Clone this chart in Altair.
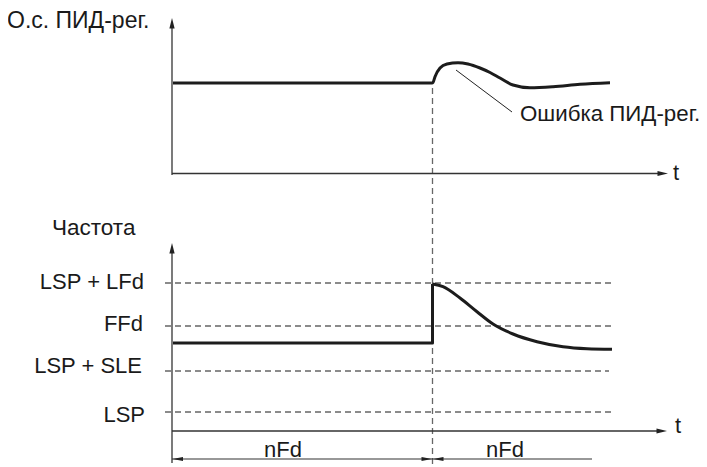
import altair as alt
import pandas as pd

# ---------------- data (diagram coordinates: x to the right, y downward) ----------------
# Top panel: PID feedback curve ("О.с. ПИД-рег.")
fb_x = [173, 432, 433, 435, 440, 447, 458, 468, 480, 490, 500, 513, 530, 553, 580, 610]
fb_y = [83, 83, 82.5, 76.7, 68, 64, 62.7, 64, 68, 72.5, 78, 85, 87.7, 86.7, 84.3, 82.7]

# Bottom panel: frequency – constant level, jump at the event, then decay
freq_step_x = [173, 432.5, 432.5]
freq_step_y = [343, 343, 284]
freq_decay_x = [432.5, 443, 460, 477, 493, 513, 537, 563, 587, 612]
freq_decay_y = [284, 286.7, 298, 311.7, 324, 334, 341.7, 346.7, 348.7, 349.3]

# Frequency reference levels
level_names = ["LSP + LFd", "FFd", "LSP + SLE", "LSP"]
level_y = [283, 326, 371, 412]
level_start = [165, 165, 165, 165]
level_end = [615, 615, 609, 615]
level_label_y = [289, 331, 373, 422]
level_label_x = [144, 143, 142, 145]

# Event time and nFd periods
event_x = 432.5
nfd_start = [172, 432.5]
nfd_end = [432.5, 592]
nfd_y = 459

# Axes (origin x, bottom y, arrow tip y, time-axis y, time-axis tip x)
axis_x = 172
top_axis = dict(y_bottom=175, y_tip=18, t_y=173.5, t_tip=668)
bot_axis = dict(y_bottom=463, y_tip=243, t_y=431, t_tip=667)

# Texts: (text, x, baseline y, align, font size)
texts = [
    ("О.с. ПИД-рег.", 7, 28, "left", 23),
    ("Частота", 52, 235, "left", 22.5),
    ("Ошибка ПИД-рег.", 520, 121, "left", 22.3),
    ("t", 673, 180, "left", 22),
    ("t", 675, 433, "left", 22),
    ("nFd", 283, 457, "center", 22),
    ("nFd", 505, 457, "center", 22),
] + [(n, lx, ly, "right", 22) for n, lx, ly in zip(level_names, level_label_x, level_label_y)]

# ---------------- scales ----------------
xs = alt.Scale(domain=[8, 699], nice=False, zero=False)
ys = alt.Scale(domain=[8, 467], nice=False, zero=False, reverse=True)

def X(f="x"):
    return alt.X(f"{f}:Q", scale=xs, axis=None)

def Y(f="y"):
    return alt.Y(f"{f}:Q", scale=ys, axis=None)

# ---------------- layers ----------------
axes_df = pd.DataFrame([
    dict(x=axis_x, x2=axis_x, y=top_axis["y_tip"] + 6, y2=top_axis["y_bottom"]),
    dict(x=axis_x, x2=axis_x, y=bot_axis["y_tip"] + 6, y2=bot_axis["y_bottom"]),
    dict(x=axis_x, x2=top_axis["t_tip"] - 6, y=top_axis["t_y"], y2=top_axis["t_y"]),
    dict(x=axis_x, x2=bot_axis["t_tip"] - 6, y=bot_axis["t_y"], y2=bot_axis["t_y"]),
])
axes = alt.Chart(axes_df).mark_rule(color="#333333", strokeWidth=1.3).encode(
    x=X(), x2="x2:Q", y=Y(), y2="y2:Q"
)

dim_df = pd.DataFrame(dict(x=nfd_start, x2=nfd_end, y=[nfd_y] * 2, y2=[nfd_y] * 2))
dims = alt.Chart(dim_df).mark_rule(color="#333333", strokeWidth=1.2).encode(
    x=X(), x2="x2:Q", y=Y(), y2="y2:Q"
)

lvl_df = pd.DataFrame(dict(x=level_start, x2=level_end, y=level_y, y2=level_y))
levels = alt.Chart(lvl_df).mark_rule(color="#666666", strokeWidth=1.3, strokeDash=[6, 4]).encode(
    x=X(), x2="x2:Q", y=Y(), y2="y2:Q"
)

ev_df = pd.DataFrame(dict(x=[event_x], x2=[event_x], y=[88], y2=[467]))
event = alt.Chart(ev_df).mark_rule(color="#666666", strokeWidth=1.3, strokeDash=[6, 4]).encode(
    x=X(), x2="x2:Q", y=Y(), y2="y2:Q"
)

lead_df = pd.DataFrame(dict(x=[456], x2=[512], y=[70], y2=[112]))
leader = alt.Chart(lead_df).mark_rule(color="#222222", strokeWidth=1).encode(
    x=X(), x2="x2:Q", y=Y(), y2="y2:Q"
)

fb_df = pd.DataFrame(dict(x=fb_x, y=fb_y, o=range(len(fb_x))))
fb_line = alt.Chart(fb_df).mark_line(color="#1c1c1c", strokeWidth=3, interpolate="monotone").encode(
    x=X(), y=Y(), order="o:Q"
)

step_df = pd.DataFrame(dict(x=freq_step_x, y=freq_step_y, o=range(len(freq_step_x))))
step_line = alt.Chart(step_df).mark_line(color="#1c1c1c", strokeWidth=3, strokeJoin="round").encode(
    x=X(), y=Y(), order="o:Q"
)

dec_df = pd.DataFrame(dict(x=freq_decay_x, y=freq_decay_y, o=range(len(freq_decay_x))))
dec_line = alt.Chart(dec_df).mark_line(color="#1c1c1c", strokeWidth=3, interpolate="monotone").encode(
    x=X(), y=Y(), order="o:Q"
)

# arrowheads (tip at the point's position)
UP = "M0,0L-0.5,2L0.5,2Z"
RIGHT = "M0,0L-2,-0.5L-2,0.5Z"
SLIM_RIGHT = "M0,0L-2,-0.36L-2,0.36Z"
SLIM_LEFT = "M0,0L2,-0.36L2,0.36Z"

def heads(xs_, ys_, shape, size):
    d = pd.DataFrame(dict(x=xs_, y=ys_))
    return alt.Chart(d).mark_point(shape=shape, size=size, filled=True, opacity=1,
                                   color="#222222").encode(x=X(), y=Y())

h_up = heads([axis_x, axis_x], [top_axis["y_tip"], bot_axis["y_tip"]], UP, 110)
h_right = heads([top_axis["t_tip"], bot_axis["t_tip"]], [top_axis["t_y"], bot_axis["t_y"]], RIGHT, 110)
h_dim_r = heads([nfd_end[0] - 0.5], [nfd_y], SLIM_RIGHT, 110)
h_dim_l = heads([nfd_start[0] + 0.5, nfd_start[1] + 0.5], [nfd_y, nfd_y], SLIM_LEFT, 110)

txt_df = pd.DataFrame(texts, columns=["t", "x", "y", "a", "s"])
def text_layer(align):
    return alt.Chart(txt_df[txt_df.a == align]).mark_text(
        align=align, baseline="alphabetic", font="Liberation Sans", color="#1a1a1a"
    ).encode(x=X(), y=Y(), text="t:N",
             size=alt.Size("s:Q", scale=None, legend=None))

chart = alt.layer(
    levels, event, axes, dims, leader, fb_line, step_line, dec_line,
    h_up, h_right, h_dim_r, h_dim_l,
    text_layer("left"), text_layer("right"), text_layer("center"),
).properties(
    width=691, height=459, padding=0, autosize=alt.AutoSizeParams(type="none")
).configure_view(stroke=None)

chart.save("out.html", embed_options={"renderer": "svg", "actions": False})
